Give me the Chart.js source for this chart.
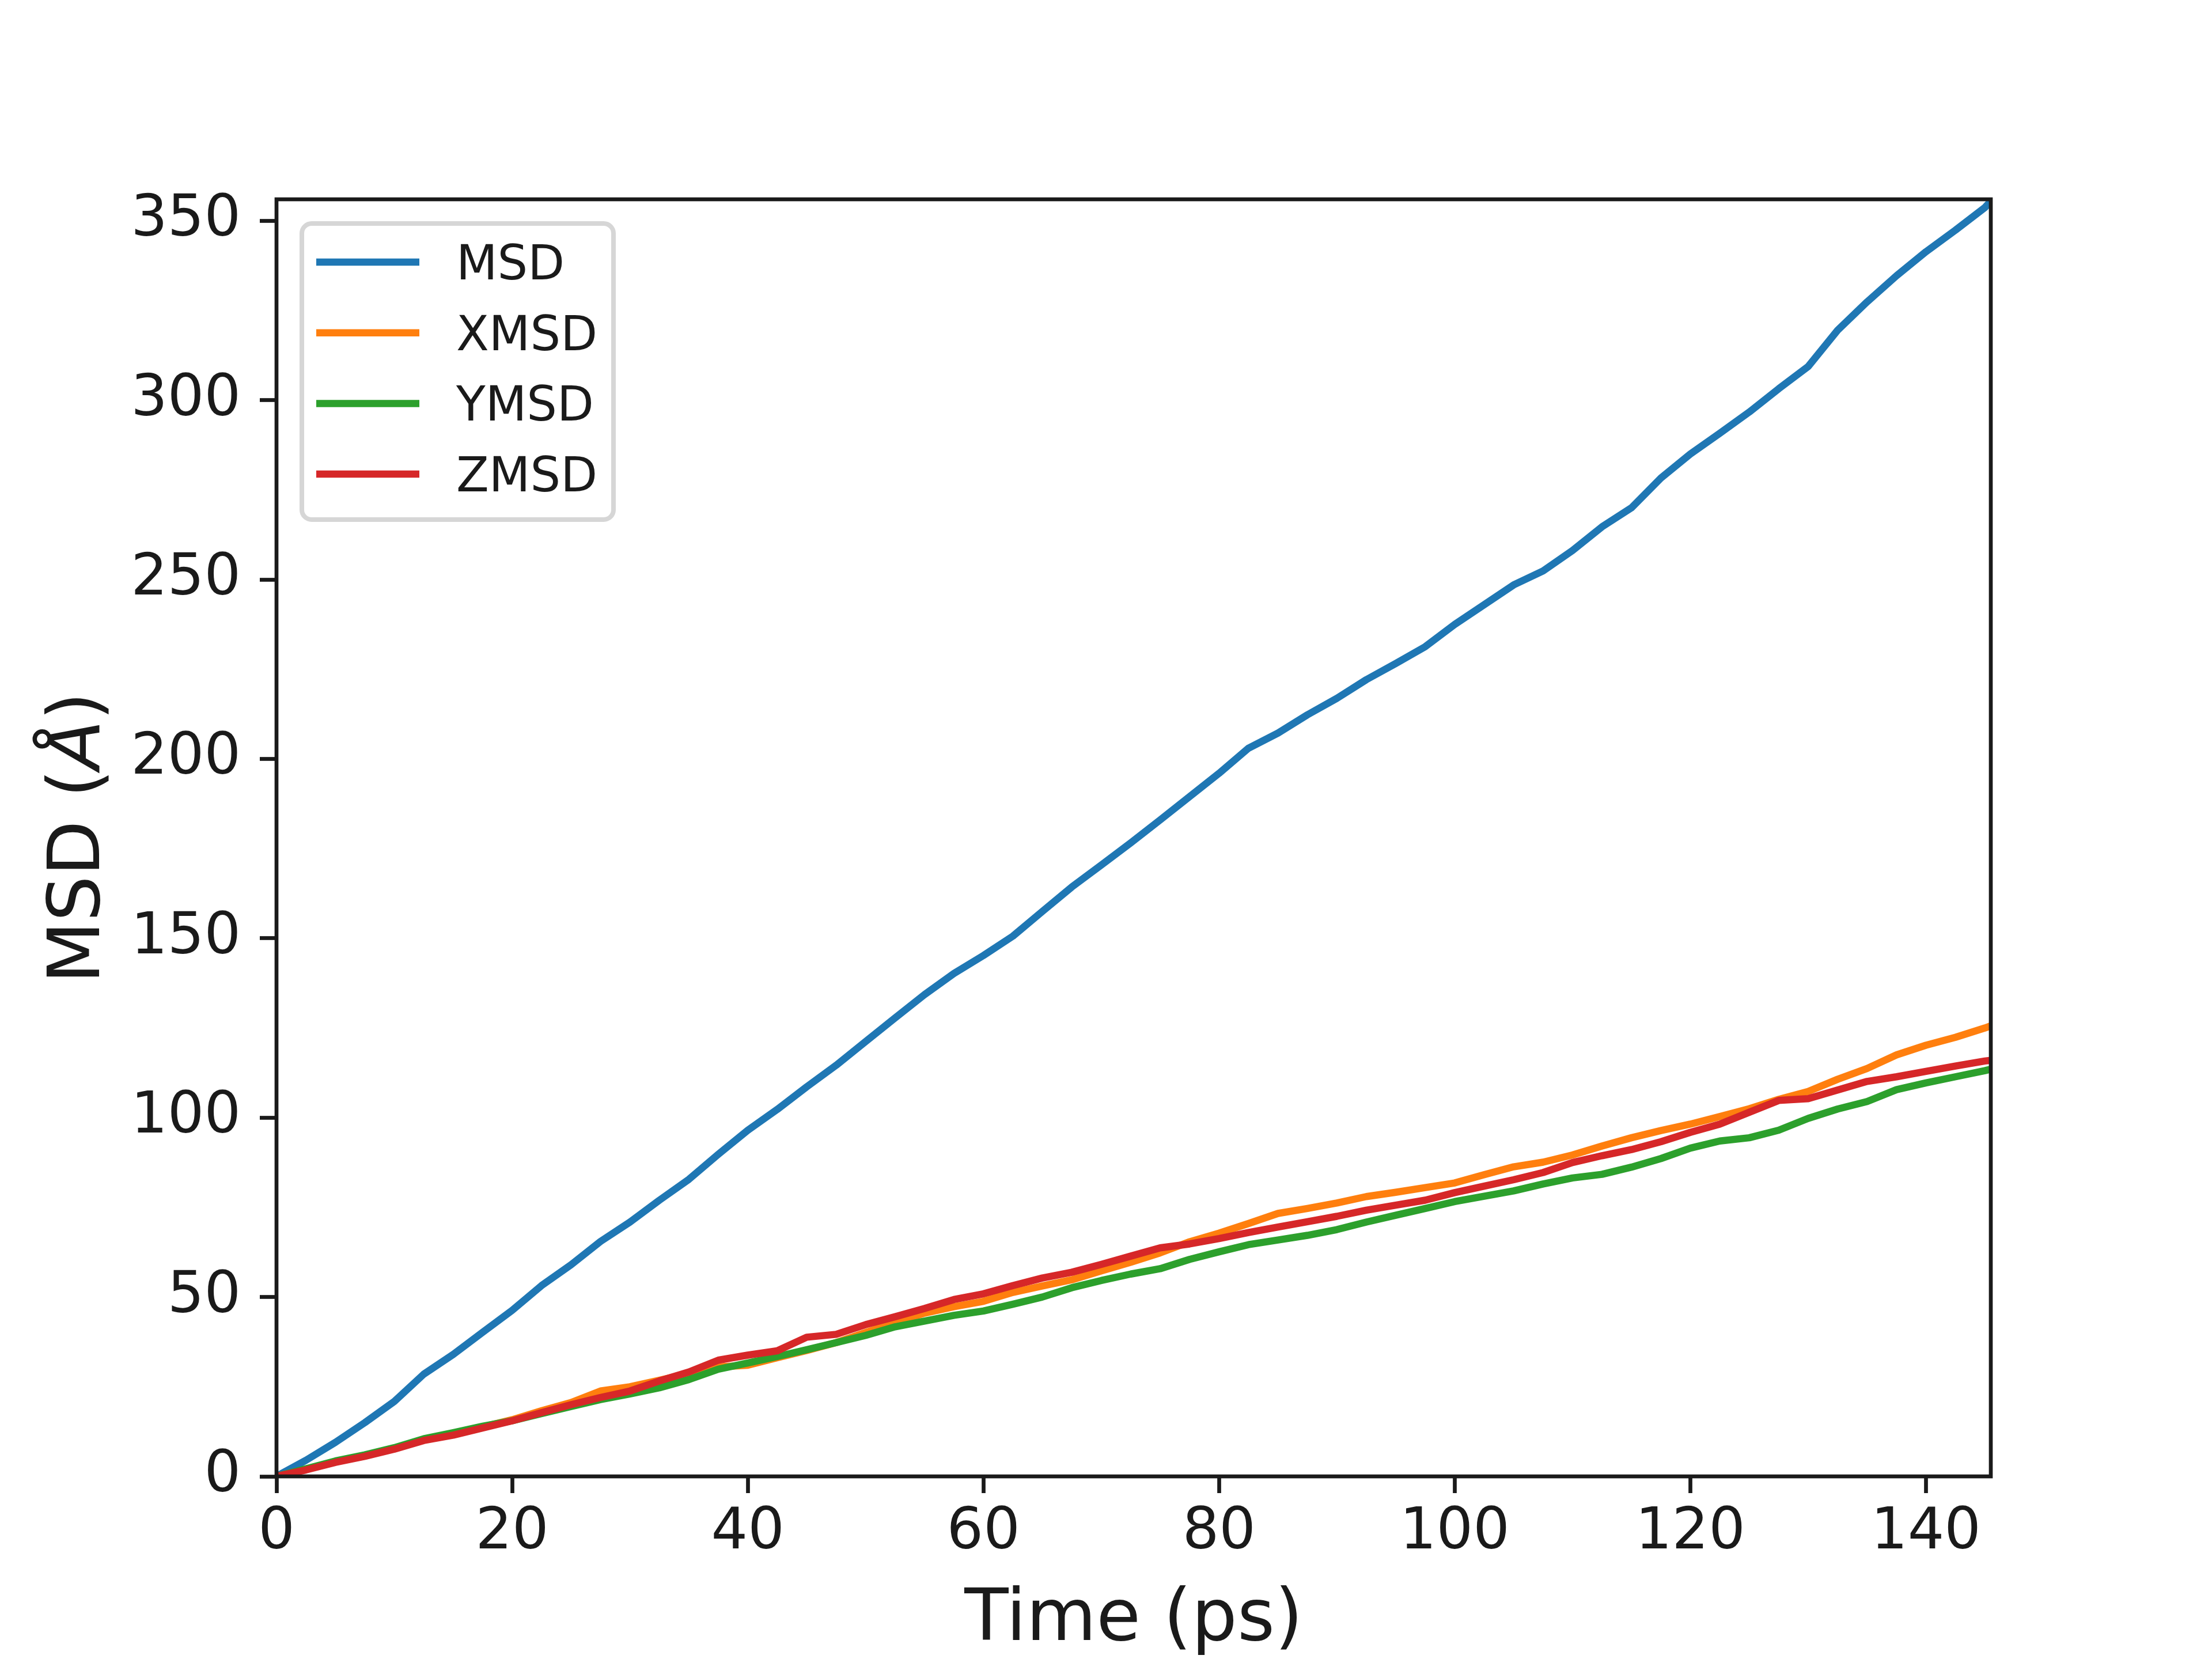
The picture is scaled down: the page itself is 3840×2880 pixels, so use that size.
<!DOCTYPE html>
<html>
<head>
<meta charset="utf-8">
<script src="https://cdn.jsdelivr.net/npm/chart.js@4.4.1/dist/chart.umd.min.js"></script>
<style>
  html, body { margin: 0; padding: 0; background: #fff; }
  canvas { display: block; }
</style>
</head>
<body>
<canvas id="chartMsd" width="3840" height="2880" style="width:3840px;height:2880px"></canvas>
<script>
// time axis (ps)
const timePs = [0, 2.5, 5, 7.5, 10, 12.5, 15, 17.5, 20, 22.5, 25, 27.5, 30, 32.5, 35, 37.5,
  40, 42.5, 45, 47.5, 50, 52.5, 55, 57.5, 60, 62.5, 65, 67.5, 70, 72.5, 75, 77.5,
  80, 82.5, 85, 87.5, 90, 92.5, 95, 97.5, 100, 102.5, 105, 107.5, 110, 112.5, 115, 117.5,
  120, 122.5, 125, 127.5, 130, 132.5, 135, 137.5, 140, 142.5, 145, 145.5]

const msd = [0, 4.5, 9.5, 15, 20.9, 28.5, 34, 40.2, 46.3, 53.2, 59, 65.5, 70.9, 77, 82.8, 89.8,
  96.5, 102.3, 108.6, 114.6, 121.2, 127.8, 134.3, 140.2, 145.2, 150.6, 157.5, 164.3, 170.4, 176.6, 183, 189.5,
  196, 203, 207.2, 212.3, 216.9, 222.1, 226.6, 231.3, 237.5, 243, 248.5, 252.4, 258.1, 264.7, 270, 278.3,
  285, 290.8, 296.7, 303.2, 309.4, 319.5, 327.4, 334.7, 341.4, 347.4, 353.7, 355.5]

const xmsd = [0, 2, 4.1, 5.7, 7.8, 10.2, 11.9, 13.8, 15.8, 18.3, 20.6, 23.8, 25, 26.8, 28.7, 30.5,
  31, 33.1, 35.1, 37.3, 40.1, 42.9, 45.5, 47.3, 48.8, 51.3, 53.1, 54.8, 57.3, 59.7, 62.3, 65.4,
  67.8, 70.5, 73.3, 74.7, 76.2, 78, 79.2, 80.5, 81.8, 84.1, 86.3, 87.6, 89.6, 92.1, 94.4, 96.4,
  98.2, 100.3, 102.5, 105.1, 107.3, 110.7, 113.7, 117.5, 120.2, 122.4, 125, 125.6]

const ymsd = [0, 2.1, 4.3, 6, 8, 10.5, 12.2, 14, 15.5, 17.5, 19.5, 21.4, 23, 24.7, 27, 29.9,
  31.6, 33.4, 35.3, 37.3, 39.3, 41.7, 43.3, 44.9, 46.1, 48, 50, 52.6, 54.6, 56.4, 57.9, 60.5,
  62.6, 64.6, 65.9, 67.2, 68.8, 70.9, 72.8, 74.7, 76.6, 78.1, 79.6, 81.5, 83.2, 84.2, 86.2, 88.6,
  91.5, 93.5, 94.4, 96.5, 99.8, 102.4, 104.5, 107.8, 109.7, 111.4, 113.1, 113.5]

const zmsd = [0, 1.8, 3.9, 5.6, 7.6, 10, 11.5, 13.5, 15.5, 17.8, 20, 22, 23.8, 26.6, 29.1, 32.4,
  33.8, 35, 38.8, 39.6, 42.3, 44.5, 46.8, 49.3, 50.9, 53.2, 55.3, 56.9, 59.1, 61.4, 63.7, 64.8,
  66.3, 68, 69.5, 71, 72.5, 74.2, 75.6, 77, 79.1, 80.9, 82.7, 84.7, 87.5, 89.4, 91.1, 93.3,
  95.9, 98.2, 101.5, 104.8, 105.3, 107.7, 110.1, 111.4, 112.9, 114.4, 115.8, 116]

const seriesLabels = ['MSD', 'XMSD', 'YMSD', 'ZMSD']
const xTicks = [0, 20, 40, 60, 80, 100, 120, 140]
const yTicks = [0, 50, 100, 150, 200, 250, 300, 350]
const xLimits = [0, 145.5]
const yLimits = [0, 356]

const colors = ['#1f77b4', '#ff7f0e', '#2ca02c', '#d62728']
const ink = '#1a1a1a'
const lineW = 12.5
const spineW = 6.7

const toPoints = ys => ys.map((y, i) => ({ x: timePs[i], y: y }))

// spines on all four sides, drawn over the lines like matplotlib
const frame = {
  id: 'frame',
  afterDatasetsDraw(chart) {
    const { ctx, chartArea: a } = chart
    ctx.save()
    ctx.strokeStyle = ink
    ctx.lineWidth = spineW
    ctx.lineJoin = 'miter'
    ctx.strokeRect(a.left, a.top, a.right - a.left, a.bottom - a.top)
    ctx.restore()
  }
}

// axis titles (the angstrom sign is italic in the original)
const axisTitles = {
  id: 'axisTitles',
  afterDraw(chart) {
    const { ctx, chartArea: a } = chart
    ctx.save()
    ctx.fillStyle = ink
    ctx.textBaseline = 'alphabetic'

    ctx.font = '125px "DejaVu Sans"'
    ctx.textAlign = 'center'
    ctx.fillText('Time (ps)', (a.left + a.right) / 2, 2847)

    const parts = [['MSD (', '125px "DejaVu Sans"'], ['Å', 'italic 125px "DejaVu Sans"'], [')', '125px "DejaVu Sans"']]
    let total = 0
    parts.forEach(p => { ctx.font = p[1]; total += ctx.measureText(p[0]).width })
    ctx.translate(172, (a.top + a.bottom) / 2)
    ctx.rotate(-Math.PI / 2)
    ctx.textAlign = 'left'
    let x = -total / 2
    parts.forEach(p => {
      ctx.font = p[1]
      ctx.fillText(p[0], x, 0)
      x += ctx.measureText(p[0]).width
    })
    ctx.restore()
  }
}

// legend box in the upper left corner
const legendBox = {
  id: 'legendBox',
  afterDraw(chart) {
    const { ctx } = chart
    const left = 524, top = 388, w = 541, h = 514, r = 17
    ctx.save()
    ctx.beginPath()
    ctx.roundRect(left, top, w, h, r)
    ctx.fillStyle = 'rgba(255,255,255,0.8)'
    ctx.fill()
    ctx.lineWidth = 8
    ctx.strokeStyle = 'rgba(204,204,204,0.8)'
    ctx.stroke()

    ctx.font = '83px "DejaVu Sans"'
    ctx.textAlign = 'left'
    ctx.textBaseline = 'alphabetic'
    chart.data.datasets.forEach((ds, i) => {
      const cy = 455 + i * 122.7
      ctx.beginPath()
      ctx.moveTo(549, cy)
      ctx.lineTo(728, cy)
      ctx.lineWidth = lineW
      ctx.lineCap = 'butt'
      ctx.strokeStyle = ds.borderColor
      ctx.stroke()
      ctx.fillStyle = ink
      ctx.fillText(ds.label, 792, cy + 30)
    })
    ctx.restore()
  }
}

const ctx = document.querySelector('#chartMsd').getContext('2d')

new Chart(ctx, {
  type: 'line',
  data: {
    datasets: [msd, xmsd, ymsd, zmsd].map((ys, i) => ({
      label: seriesLabels[i],
      data: toPoints(ys),
      borderColor: colors[i],
      backgroundColor: colors[i],
      borderWidth: lineW,
      borderJoinStyle: 'round',
      borderCapStyle: 'butt',
      pointRadius: 0,
      tension: 0,
      fill: false,
      order: 3 - i
    }))
  },
  options: {
    responsive: false,
    animation: false,
    devicePixelRatio: 1,
    layout: { padding: { left: 0, top: 346, right: 384, bottom: 0 } },
    plugins: {
      legend: { display: false },
      tooltip: { enabled: false }
    },
    scales: {
      x: {
        type: 'linear',
        min: xLimits[0],
        max: xLimits[1],
        afterBuildTicks: axis => { axis.ticks = xTicks.map(v => ({ value: v })) },
        afterFit: axis => { axis.height = 317 },
        border: { display: false },
        grid: { drawOnChartArea: false, drawTicks: true, tickLength: 29, tickWidth: spineW, tickColor: ink },
        ticks: {
          color: ink,
          padding: 10,
          maxRotation: 0,
          autoSkip: false,
          font: { family: 'DejaVu Sans', size: 100 }
        }
      },
      y: {
        type: 'linear',
        min: yLimits[0],
        max: yLimits[1],
        afterBuildTicks: axis => { axis.ticks = yTicks.map(v => ({ value: v })) },
        afterFit: axis => { axis.width = 480 },
        border: { display: false },
        grid: { drawOnChartArea: false, drawTicks: true, tickLength: 29, tickWidth: spineW, tickColor: ink },
        ticks: {
          color: ink,
          padding: 33,
          autoSkip: false,
          font: { family: 'DejaVu Sans', size: 100 }
        }
      }
    }
  },
  plugins: [frame, axisTitles, legendBox]
})
</script>
</body>
</html>
